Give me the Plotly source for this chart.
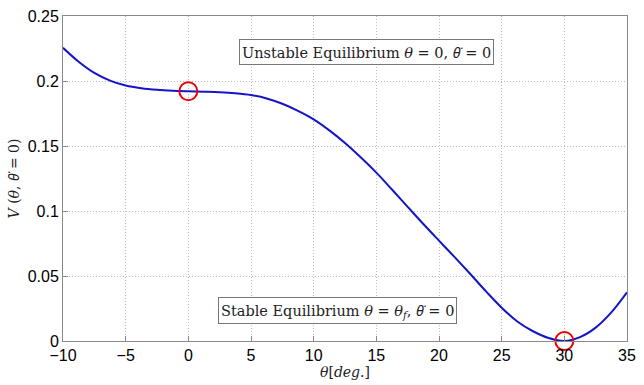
import plotly.graph_objects as go

theta = [-10, -8.75, -7.5, -6.25, -5, -3.75, -2.5, -1.25, 0, 1.25, 2.5, 3.75, 5, 6.25, 7.5, 8.75,
         10, 11.25, 12.5, 13.75, 15, 16.25, 17.5, 18.75,
         20, 21.25, 22.5, 23.75, 25, 26.25, 27.5, 28.75, 30, 31.25, 32.5, 33.75, 35]
V = [0.2255, 0.2148, 0.2062, 0.2003, 0.1965, 0.1944, 0.1932, 0.1925, 0.1921, 0.1918, 0.1914,
     0.1906, 0.1892, 0.1866, 0.1825, 0.1770, 0.1705, 0.1620, 0.1523, 0.1413, 0.1295, 0.1165,
     0.1032, 0.0900, 0.0772, 0.0645, 0.0515, 0.0382, 0.0256, 0.0150, 0.0075, 0.0023, 0.0,
     0.0030, 0.0103, 0.0220, 0.0374]

eq_theta = [0, 30]
eq_V = [0.1921, 0.0]

xticks = [-10, -5, 0, 5, 10, 15, 20, 25, 30, 35]
yticks = [0, 0.05, 0.1, 0.15, 0.2, 0.25]
ytick_text = ["0", "0.05", "0.1", "0.15", "0.2", "0.25"]

serif = "DejaVu Serif, serif"
sans = "Liberation Sans, Arial, sans-serif"
thd = "<span style=\"font-family:'Noto Sans'\"><i>θ\u0307</i></span>"

fig = go.Figure()
fig.add_trace(go.Scatter(x=theta, y=V, mode="lines",
                         line=dict(color="#1414c8", width=2, shape="spline", smoothing=1.0),
                         showlegend=False, hoverinfo="skip"))
fig.add_trace(go.Scatter(x=eq_theta, y=eq_V, mode="markers",
                         marker=dict(symbol="circle-open", size=18, color="#ee0000",
                                     line=dict(width=2, color="#ee0000")),
                         showlegend=False, cliponaxis=False))

axis_common = dict(showgrid=True, gridcolor="#bdbdbd", griddash="1px,2px", gridwidth=1,
                   showline=True, linecolor="#8a8a8a", linewidth=1, mirror=True,
                   ticks="inside", ticklen=5, tickcolor="#8a8a8a",
                   zeroline=False, tickfont=dict(family=sans, size=16, color="black"))

fig.update_xaxes(range=[-10, 35], tickvals=xticks, **axis_common,
                 title=dict(text="<i>θ</i>[<i>deg.</i>]", font=dict(family=serif, size=14, color="#222"),
                            standoff=2))
fig.update_yaxes(range=[0, 0.25], tickvals=yticks, ticktext=ytick_text, **axis_common,
                 title=dict(text=f"<i>V</i> (<i>θ</i>, {thd} = 0)",
                            font=dict(family=serif, size=14, color="#222"), standoff=4))

fig.add_annotation(x=14.2, y=0.2225, xref="x", yref="y",
                   text=f"Unstable Equilibrium <i>θ</i> = 0, {thd} = 0",
                   showarrow=False, font=dict(family=serif, size=14.5, color="#222"),
                   bgcolor="white", bordercolor="#777", borderwidth=1, borderpad=2)
fig.add_annotation(x=11.9, y=0.0231, xref="x", yref="y",
                   text=f"Stable Equilibrium <i>θ</i> = <i>θ<sub>f</sub></i>, {thd} = 0",
                   showarrow=False, font=dict(family=serif, size=14.5, color="#222"),
                   bgcolor="white", bordercolor="#777", borderwidth=1, borderpad=2)

fig.update_layout(width=644, height=385, plot_bgcolor="white", paper_bgcolor="white",
                  margin=dict(l=63, r=8, t=11, b=44))

fig.write_html("out.html")
